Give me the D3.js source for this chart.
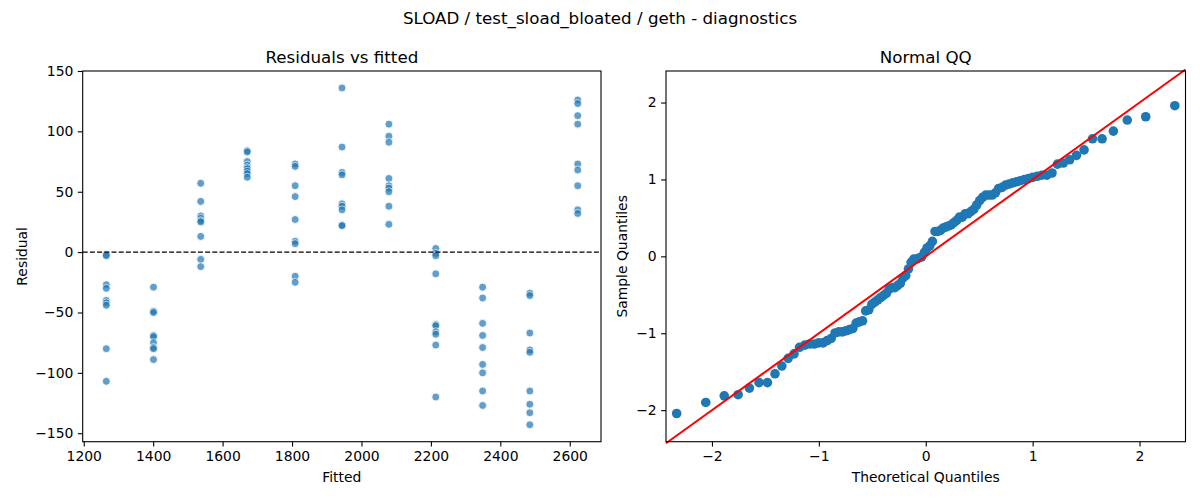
<!DOCTYPE html>
<html>
<head>
<meta charset="utf-8">
<script src="https://cdn.jsdelivr.net/npm/d3@7"></script>
<style>
  body { margin: 0; background: #fff; }
  text { font-family: 'DejaVu Sans', sans-serif; fill: #000; }
</style>
</head>
<body>
<script>
// fitted levels (x positions of the residual columns)
var fittedLevels = [1265, 1401, 1537, 1671, 1809, 1944, 2079, 2214, 2349, 2485, 2623];

// residuals read per fitted level
var residualsByLevel = [
  [-2, -3, -27, -30, -40, -42, -44, -80, -107],
  [-29, -49, -50, -69, -70, -75, -79, -80, -89],
  [57, 42, 30, 28, 26, 25, 13, -6, -12],
  [84, 83, 75, 72, 70, 69, 67, 65, 62],
  [73, 71, 55, 46, 27, 9, 7, -20, -25],
  [136, 87, 66, 64, 40, 38, 35, 22, 22],
  [106, 96, 91, 61, 55, 53, 50, 38, 23],
  [3, -1, -3, -18, -60, -61, -66, -68, -77, -120],
  [-29, -38, -59, -69, -79, -93, -100, -115, -127],
  [-34, -36, -67, -81, -83, -115, -126, -133, -143],
  [126, 123, 113, 106, 73, 68, 55, 35, 32]
];

// tick labels
var fittedTicks = [1200, 1400, 1600, 1800, 2000, 2200, 2400, 2600];
var residualTicks = [-150, -100, -50, 0, 50, 100, 150];
var qqTicks = [-2, -1, 0, 1, 2];

var chartTitle = 'SLOAD / test_sload_bloated / geth - diagnostics';

var W = 1200, H = 500;
var blue = '#1f77b4';

var svg = d3.select('body').append('svg')
  .attr('width', W)
  .attr('height', H);

// flatten to points
var points = [];
residualsByLevel.forEach((list, i) => {
  list.forEach((r) => points.push({ fitted: fittedLevels[i], residual: r }));
});

/**
 * inverse normal cdf (Acklam's rational approximation)
 */
var normInv = (p) => {
  var a = [-3.969683028665376e+01, 2.209460984245205e+02, -2.759285104469687e+02,
    1.383577518672690e+02, -3.066479806614716e+01, 2.506628277459239e+00];
  var b = [-5.447609879822406e+01, 1.615858368580409e+02, -1.556989798598866e+02,
    6.680131188771972e+01, -1.328068155288572e+01];
  var c = [-7.784894002430293e-03, -3.223964580411365e-01, -2.400758277161838e+00,
    -2.549732539343734e+00, 4.374664141464968e+00, 2.938163982698783e+00];
  var d = [7.784695709041462e-03, 3.224671290700398e-01, 2.445134137142996e+00,
    3.754408661907416e+00];
  var q, r;
  if (p < 0.02425) {
    q = Math.sqrt(-2 * Math.log(p));
    return (((((c[0] * q + c[1]) * q + c[2]) * q + c[3]) * q + c[4]) * q + c[5]) /
      ((((d[0] * q + d[1]) * q + d[2]) * q + d[3]) * q + 1);
  }
  if (p > 1 - 0.02425) return -normInv(1 - p);
  q = p - 0.5;
  r = q * q;
  return (((((a[0] * r + a[1]) * r + a[2]) * r + a[3]) * r + a[4]) * r + a[5]) * q /
    (((((b[0] * r + b[1]) * r + b[2]) * r + b[3]) * r + b[4]) * r + 1);
}

// qq data: standardized residuals against normal quantiles
var resid = points.map(p => p.residual);
var mu = d3.mean(resid), sd = d3.deviation(resid);
var sample = resid.map(r => (r - mu) / sd).sort(d3.ascending);
var n = sample.length;
var qq = sample.map((s, i) => ({ t: normInv((i + 1) / (n + 1)), s: s }));

// draw a frame with ticks
var drawFrame = (g, x, y, xTicks, yTicks, xFmt, yFmt) => {
  var x0 = x.range()[0], x1 = x.range()[1];
  var y0 = y.range()[0], y1 = y.range()[1];

  g.append('g')
    .attr('transform', 'translate(0,' + y0 + ')')
    .call(d3.axisBottom(x).tickValues(xTicks).tickFormat(xFmt).tickSizeOuter(0).tickSize(4.9).tickPadding(4.5))
    .call(ax => ax.select('.domain').remove());

  g.append('g')
    .attr('transform', 'translate(' + x0 + ',0)')
    .call(d3.axisLeft(y).tickValues(yTicks).tickFormat(yFmt).tickSizeOuter(0).tickSize(4.9).tickPadding(4.5))
    .call(ax => ax.select('.domain').remove());

  g.selectAll('.tick line').attr('stroke', '#000').attr('stroke-width', 1.1);
  g.selectAll('.tick text')
    .style('font-family', "'DejaVu Sans', sans-serif")
    .style('font-size', '13.9px')
    .attr('fill', '#000');

  g.append('rect')
    .attr('x', x0)
    .attr('y', y1)
    .attr('width', x1 - x0)
    .attr('height', y0 - y1)
    .attr('fill', 'none')
    .attr('stroke', '#000')
    .attr('stroke-width', 1.1);
}

var fmt = d3.format('d');

// ---- left panel: residuals vs fitted
var xL = d3.scaleLinear().domain([1197, 2690]).range([82.7, 601]);
var yL = d3.scaleLinear().domain([-157, 150]).range([441.7, 71]);

var left = svg.append('g');

left.append('g').selectAll('circle')
  .data(points)
  .enter().append('circle')
  .attr('cx', d => xL(d.fitted))
  .attr('cy', d => yL(d.residual))
  .attr('r', 4)
  .attr('fill', blue)
  .attr('stroke', '#fff')
  .attr('stroke-width', 0.9)
  .attr('opacity', 0.7);

left.append('line')
  .attr('x1', xL.range()[0])
  .attr('x2', xL.range()[1])
  .attr('y1', yL(0))
  .attr('y2', yL(0))
  .attr('stroke', '#000')
  .attr('stroke-width', 1.3)
  .attr('stroke-dasharray', '5,2.2');

drawFrame(left, xL, yL, fittedTicks, residualTicks, fmt, fmt);

left.append('text')
  .attr('x', (xL.range()[0] + xL.range()[1]) / 2)
  .attr('y', 62.5)
  .attr('text-anchor', 'middle')
  .style('font-size', '16.7px')
  .text('Residuals vs fitted');

left.append('text')
  .attr('x', (xL.range()[0] + xL.range()[1]) / 2)
  .attr('y', 482)
  .attr('text-anchor', 'middle')
  .style('font-size', '13.9px')
  .text('Fitted');

left.append('text')
  .attr('transform', 'translate(27,' + ((yL.range()[0] + yL.range()[1]) / 2) + ') rotate(-90)')
  .attr('text-anchor', 'middle')
  .style('font-size', '13.9px')
  .text('Residual');

// ---- right panel: normal qq
var xR = d3.scaleLinear().domain([-2.43, 2.43]).range([666, 1185.5]);
var yR = d3.scaleLinear().domain([-2.41, 2.41]).range([441.7, 71]);

var right = svg.append('g');

right.append('g').selectAll('circle')
  .data(qq)
  .enter().append('circle')
  .attr('cx', d => xR(d.t))
  .attr('cy', d => yR(d.s))
  .attr('r', 4.8)
  .attr('fill', blue);

// 45 degree reference line
var lims = [Math.max(xR.domain()[0], yR.domain()[0]), Math.min(xR.domain()[1], yR.domain()[1])];
right.append('line')
  .attr('x1', xR(xR.domain()[0]))
  .attr('y1', yR(xR.domain()[0]))
  .attr('x2', xR(xR.domain()[1]))
  .attr('y2', yR(xR.domain()[1]))
  .attr('stroke', '#ff0000')
  .attr('stroke-width', 2);

drawFrame(right, xR, yR, qqTicks, qqTicks, fmt, fmt);

right.append('text')
  .attr('x', (xR.range()[0] + xR.range()[1]) / 2)
  .attr('y', 62.5)
  .attr('text-anchor', 'middle')
  .style('font-size', '16.7px')
  .text('Normal QQ');

right.append('text')
  .attr('x', (xR.range()[0] + xR.range()[1]) / 2)
  .attr('y', 482)
  .attr('text-anchor', 'middle')
  .style('font-size', '13.9px')
  .text('Theoretical Quantiles');

right.append('text')
  .attr('transform', 'translate(627,' + ((yR.range()[0] + yR.range()[1]) / 2) + ') rotate(-90)')
  .attr('text-anchor', 'middle')
  .style('font-size', '13.9px')
  .text('Sample Quantiles');

// suptitle
svg.append('text')
  .attr('x', W / 2)
  .attr('y', 24)
  .attr('text-anchor', 'middle')
  .style('font-size', '16.7px')
  .text(chartTitle);
</script>
</body>
</html>
